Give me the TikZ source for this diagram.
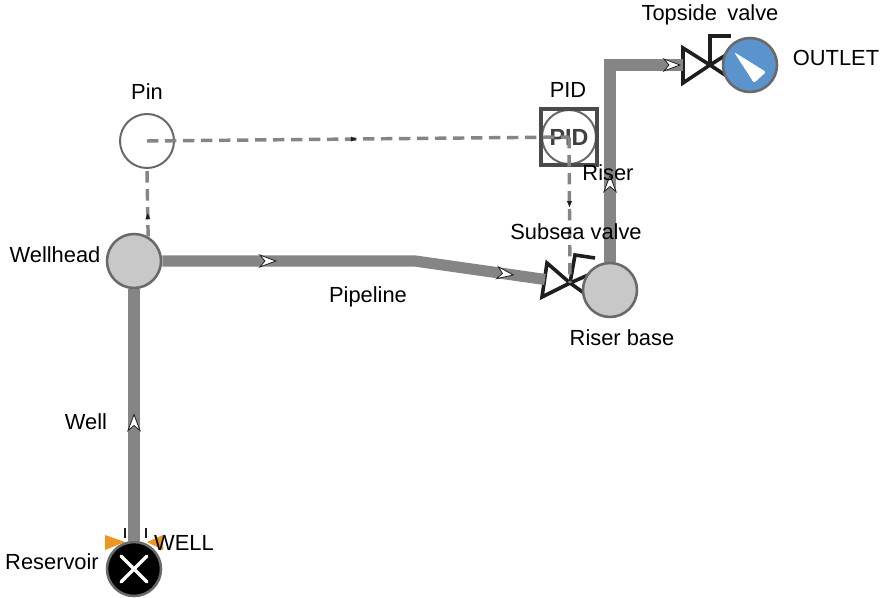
\documentclass[tikz,border=0pt]{standalone}
\usepackage{fontspec}
\setmainfont{Liberation Sans}
\usetikzlibrary{positioning,decorations.markings}
\definecolor{pipegray}{RGB}{133,133,133}
\definecolor{rimgray}{RGB}{105,105,105}
\definecolor{bodygray}{RGB}{200,200,200}
\definecolor{outletblue}{RGB}{91,147,204}
\definecolor{wellorange}{RGB}{236,152,32}
\definecolor{valvedark}{RGB}{30,30,30}

\begin{document}
\begin{tikzpicture}[
    x=0.75pt, y=-0.75pt,
    font=\fontsize{16.4}{18}\selectfont,
    junction/.style={circle, draw=rimgray, line width=1.9pt, fill=bodygray, inner sep=0pt, minimum size=40.5pt},
    sensor/.style={junction, fill=white, line width=1.5pt},
    valvebox/.style={inner sep=0pt, minimum width=37.5pt, minimum height=27pt},
    valveline/.style={draw=valvedark, line width=2.7pt, line join=miter},
    pipe/.style={draw=pipegray, line width=8.4pt},
    signal/.style={draw=pipegray, line width=2.6pt, dash pattern=on 8.5pt off 5pt},
    flowmark/.style={postaction={decorate, decoration={markings, mark=at position #1 with {
        \draw[solid, draw=valvedark, line width=0.6pt, fill=white] (8,0) -- (-8,-6) -- (-3,0) -- (-8,6) -- cycle;}}}},
    signalmark/.style={postaction={decorate, decoration={markings, mark=at position #1 with {
        \fill[valvedark] (3,0) -- (-3,-2.5) -- (-3,2.5) -- cycle;}}}},
    lbl/.style={on grid, inner sep=0pt, text=black}
]
\useasboundingbox (0,0) rectangle (885,598);

% valves and well marks go under the circles
\node[valvebox, rotate=-8] (subseavalve) at (570,283) {};
\node[valvebox, minimum width=40.5pt] (topvalve) at (710,65) {};
\draw[valveline] (570,283) -- (547,263) -- (542,297) -- (570,283) -- (598,303) -- (602,269) -- cycle;
\draw[valveline] (570,283) -- (575,255) -- (595,258);
\draw[valveline] (710,65) -- (683,48) -- (683,83) -- (710,65) -- (737,83) -- (737,48) -- cycle;
\draw[valveline] (710,65) -- (710,36) -- (731,36);
\fill[wellorange] (105,535) -- (105,550) -- (125,542) -- cycle;
\fill[wellorange] (163,535) -- (163,550) -- (147,542) -- cycle;
\draw[valvedark, line width=1.2pt] (125,528) -- (125,538) (146,528) -- (146,538);

\node[junction, fill=black] (reservoir) at (134,569) {};
\node[junction, on grid, above=231pt of reservoir] (wellhead) {};
\node[sensor, on grid, above=90pt of wellhead, xshift=9.75pt] (pin) {};
\node[junction, on grid, right=357pt of wellhead, yshift=-21.75pt] (riserbase) {};
\node[sensor, on grid, right=316.5pt of pin, yshift=3pt] (pidctrl) {\fontsize{17.5}{20}\selectfont\bfseries\textcolor{valvedark!85!white}{PID}};
\node[draw=rimgray!70!black, line width=2.3pt, inner sep=0pt, minimum size=42pt] (pidbox) at (pidctrl) {};
\node[junction, on grid, fill=outletblue, above=168.75pt of riserbase, xshift=105pt] (outlet) {};
\coordinate (pipebend) at (415,261);

\fill[white, rounded corners=1.5pt] (734,52) -- (766,72) -- (754,83) -- cycle;
\draw[white, line width=2.6pt, line cap=round] (121,556) -- (147,582) (147,556) -- (121,582);

\draw[pipe, flowmark=0.47] (reservoir) -- (wellhead);
\draw[pipe, flowmark=0.275, flowmark=0.896] (wellhead) -- (pipebend) -- (subseavalve.west);
\draw[pipe, flowmark=0.29, flowmark=0.96] (riserbase) |- (topvalve.west);

\draw[signal, signalmark=0.3] (wellhead.60) -- (pin.south);
\draw[signal, signalmark=0.49] (pin.center) -- (pidctrl.center);
\draw[signal, signalmark=0.46] (pidctrl.center) -- (subseavalve.center);

\node[lbl, above=36.75pt of pin] (pinlabel) {Pin};
\node[lbl, above=35.25pt of pidctrl, xshift=-0.75pt] (pidlabel) {PID};
\node[lbl, above=37.5pt of topvalve] (toplabel) {Topside\hspace{0.2em} valve};
\node[lbl, right=64.5pt of outlet, yshift=5.25pt] (outletlabel) {OUTLET};
\node[lbl, left=59.25pt of wellhead, yshift=4.5pt] (wellheadlabel) {Wellhead};
\node[lbl, below=18.75pt of pipebend, xshift=-35.25pt] (pipelabel) {Pipeline};
\node[lbl, above=38.25pt of subseavalve, xshift=4.5pt] (subsealabel) {Subsea valve};
\node[lbl, above=87.75pt of riserbase, xshift=-1.5pt] (riserlabel) {Riser};
\node[lbl, below=36pt of riserbase, xshift=9pt] (baselabel) {Riser base};
\node[lbl, below=120.75pt of wellhead, xshift=-36pt] (welllabel) {Well};
\node[lbl, right=37.5pt of reservoir, yshift=19.5pt] (wellcaps) {WELL};
\node[lbl, left=61.5pt of reservoir, yshift=5.25pt] (reservoirlabel) {Reservoir};

\end{tikzpicture}
\end{document}
